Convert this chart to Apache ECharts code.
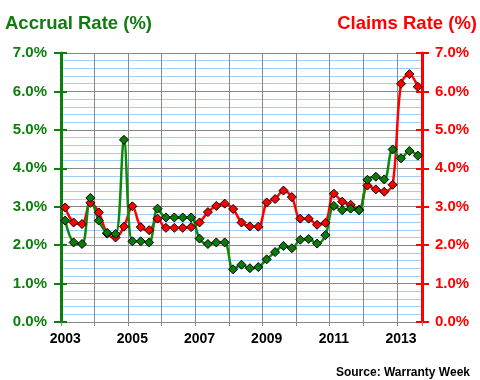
<!DOCTYPE html>
<html><head><meta charset="utf-8">
<script src="https://cdn.jsdelivr.net/npm/echarts@6/dist/echarts.min.js"></script>
<style>html,body{margin:0;padding:0;background:#fff}#c{width:480px;height:380px}</style>
</head><body><div id="c"></div>
<script>
// Quarterly categories 2003 Q1 .. 2013 Q3
const years = [2003,2004,2005,2006,2007,2008,2009,2010,2011,2012,2013];
const quarterNames = ['Q1','Q2','Q3','Q4'];
const categories = [];
years.forEach(y => quarterNames.forEach(q => categories.push(y + ' ' + q)));
categories.length = 43;

const accrualRate = [2.64,2.07,2.03,3.23, 2.64,2.32,2.29,4.74, 2.10,2.10,2.07,2.95,
  2.72,2.72,2.72,2.72, 2.17,2.03,2.07,2.07, 1.37,1.49,1.40,1.43, 1.63,1.82,1.98,1.92,
  2.14,2.16,2.04,2.26, 3.02,2.91,2.95,2.91, 3.70,3.78,3.71,4.49, 4.26,4.45,4.33];
const claimsRate = [2.98,2.59,2.55,3.10, 2.85,2.30,2.20,2.48, 3.01,2.47,2.39,2.69,
  2.45,2.45,2.45,2.47, 2.59,2.86,3.02,3.08, 2.94,2.59,2.49,2.48, 3.11,3.20,3.42,3.25,
  2.69,2.69,2.53,2.58, 3.34,3.13,3.05,2.92, 3.55,3.45,3.39,3.57, 6.20,6.45,6.12];

const yMin = 0, yMax = 7, yStep = 1;
const GREEN = '#0b7f0b', RED = '#ff0000';
const FONT = 'Liberation Sans, Arial, sans-serif';

const chart = echarts.init(document.getElementById('c'), null, {renderer: 'canvas'});
const pct = v => v.toFixed(1) + '%';
const baseY = {type: 'value', min: yMin, max: yMax, interval: yStep};

chart.setOption({
  animation: false,
  backgroundColor: '#fff',
  title: [
    {text: 'Accrual Rate (%)', left: 0, top: 9,
     textStyle: {color: '#117a11', fontFamily: FONT, fontWeight: 'bold', fontSize: 18.5}},
    {text: 'Claims Rate (%)', right: -2, top: 9,
     textStyle: {color: RED, fontFamily: FONT, fontWeight: 'bold', fontSize: 18.5}},
    {text: 'Source: Warranty Week', right: 5, top: 362,
     textStyle: {color: '#000', fontFamily: FONT, fontWeight: 'bold', fontSize: 12}}
  ],
  grid: {left: 61, right: 58, top: 53, bottom: 58, containLabel: false},
  xAxis: {
    type: 'category', data: categories, boundaryGap: true,
    axisLine: {show: true, lineStyle: {color: '#888', width: 1}},
    axisTick: {show: true, length: 4, interval: i => i % 4 === 0, lineStyle: {color: '#888', width: 1}},
    splitLine: {show: true, interval: i => i % 4 === 0, lineStyle: {color: '#888', width: 1}},
    axisLabel: {interval: i => i % 8 === 0, formatter: v => v.slice(0, 4), margin: 10,
      color: '#000', fontFamily: FONT, fontWeight: 'bold', fontSize: 14}
  },
  yAxis: [
    Object.assign({}, baseY, {position: 'left',
      axisLine: {show: true, lineStyle: {color: GREEN, width: 3}},
      axisTick: {show: true, length: 7, lineStyle: {color: GREEN, width: 2}},
      axisLabel: {formatter: pct, margin: 14, color: GREEN, fontFamily: FONT, fontWeight: 'bold', fontSize: 15},
      splitLine: {show: true, lineStyle: {color: '#888', width: 1}},
      minorTick: {show: false, splitNumber: 5},
      minorSplitLine: {show: true, lineStyle: {color: '#9fcdf5', width: 1}}
    }),
    Object.assign({}, baseY, {position: 'right',
      axisLine: {show: true, lineStyle: {color: RED, width: 3}},
      axisTick: {show: true, length: 7, lineStyle: {color: RED, width: 2}},
      axisLabel: {formatter: pct, margin: 13, color: RED, fontFamily: FONT, fontWeight: 'bold', fontSize: 15},
      splitLine: {show: false}
    }),
    Object.assign({}, baseY, {position: 'left', offset: 0,
      axisLine: {show: false},
      axisTick: {show: true, inside: true, length: 6, lineStyle: {color: GREEN, width: 2}},
      axisLabel: {show: false}, splitLine: {show: false}
    }),
    Object.assign({}, baseY, {position: 'right', offset: 0,
      axisLine: {show: false},
      axisTick: {show: true, inside: true, length: 6, lineStyle: {color: RED, width: 2}},
      axisLabel: {show: false}, splitLine: {show: false}
    })
  ],
  series: [
    {name: 'Claims Rate', type: 'line', yAxisIndex: 1, data: claimsRate, smooth: 0.35,
     showAllSymbol: true, symbol: 'diamond', symbolSize: 9,
     lineStyle: {color: RED, width: 2.5},
     itemStyle: {color: RED, borderColor: '#000', borderWidth: 1}},
    {name: 'Accrual Rate', type: 'line', yAxisIndex: 0, data: accrualRate, smooth: 0.35,
     showAllSymbol: true, symbol: 'diamond', symbolSize: 9,
     lineStyle: {color: '#0a8a0a', width: 2.5},
     itemStyle: {color: '#0a7a0a', borderColor: '#000', borderWidth: 1}}
  ]
});
</script>
</body></html>
